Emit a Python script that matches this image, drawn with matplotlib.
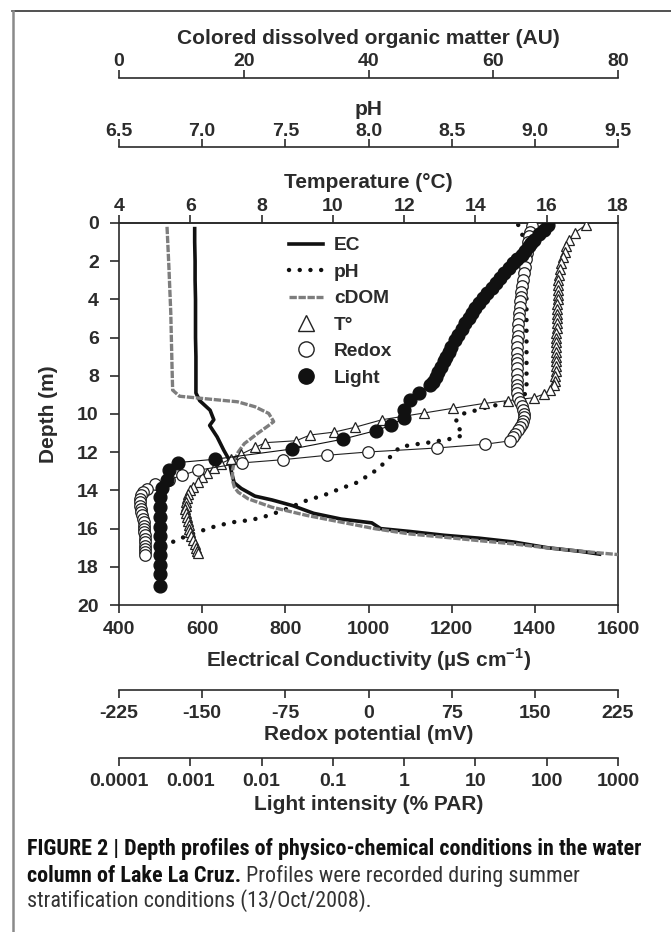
import matplotlib
matplotlib.use('Agg')
import matplotlib.pyplot as plt
from matplotlib.lines import Line2D
from matplotlib.ticker import NullLocator
from matplotlib import font_manager

plt.rcParams['font.family'] = ['Liberation Sans', 'DejaVu Sans']
plt.rcParams['font.weight'] = 'bold'
plt.rcParams['axes.unicode_minus'] = False
plt.rcParams['mathtext.fontset'] = 'custom'
plt.rcParams['mathtext.rm'] = 'Liberation Sans'
plt.rcParams['mathtext.bf'] = 'Liberation Sans:bold'

# ---- data (depth in m) ----
ec_depth = [0.2, 1.0, 2.0, 3.0, 4.0, 5.0, 6.0, 7.0, 8.0, 8.9, 9.3, 9.8, 10.3, 10.6, 11.2,
            11.9, 12.4, 13.1, 13.6, 13.9, 14.3, 14.5, 14.8, 15.2, 15.5, 15.7, 16.0, 16.15,
            16.35, 16.5, 16.7, 17.0, 17.2, 17.35]
ec_value = [582, 582, 583, 583, 584, 584, 584, 585, 585, 585, 594, 619, 628, 618, 636,
            652, 665, 671, 677, 694, 727, 768, 818, 868, 934, 1008, 1029, 1099,
            1182, 1265, 1348, 1430, 1513, 1560]

ph_depth = [0.1, 0.5, 1.0, 2.1, 4.0, 6.0, 8.0, 8.9, 9.36, 9.49, 9.63, 9.8, 9.98, 10.41,
            11.11, 11.29, 11.46, 11.58, 11.72, 12.16, 12.6, 12.98, 13.26, 13.56, 13.91,
            14.26, 14.52, 14.96, 15.31, 15.54, 15.66, 15.85, 16.13, 16.48, 16.71]
ph_value = [8.90, 8.92, 8.94, 8.945, 8.95, 8.95, 8.95, 8.95, 8.87, 8.79, 8.72, 8.65, 8.57,
            8.52, 8.57, 8.50, 8.39, 8.29, 8.19, 8.14, 8.09, 8.04, 7.99, 7.94, 7.83,
            7.73, 7.63, 7.51, 7.40, 7.30, 7.19, 7.09, 6.99, 6.88, 6.82]

cdom_depth = [0.2, 2.3, 4.7, 7.5, 8.75, 9.07, 9.19, 9.36, 9.62, 9.97, 10.4, 10.6, 11.0,
              11.55, 12.0, 12.43, 12.95, 13.48, 13.83, 14.09, 14.44, 14.88, 15.31, 15.66,
              16.01, 16.28, 16.45, 16.63, 16.8, 17.01, 17.19, 17.36]
cdom_value = [7.7, 8.0, 8.3, 8.5, 8.6, 9.7, 13.5, 19.0, 21.8, 24.0, 24.8, 24.0, 22.3,
              20.1, 19.1, 18.5, 18.2, 18.2, 18.5, 19.1, 20.7, 24.5, 30.1, 35.6,
              41.1, 46.6, 52.1, 57.7, 63.2, 68.7, 74.2, 80.0]

temp_depth = [0.1, 0.5, 0.9, 1.2, 1.5, 1.8, 2.1, 2.4, 2.7, 3.0,
              3.25, 3.5, 3.75, 4.0, 4.25, 4.5, 4.75, 5.0, 5.25, 5.5,
              5.75, 6.0, 6.25, 6.5, 6.75, 7.0, 7.25, 7.5, 7.75, 8.0,
              8.25, 8.5, 8.75, 8.95, 9.15, 9.3, 9.45, 9.7, 9.95, 10.3,
              10.7, 10.95, 11.1, 11.4, 11.5, 11.75, 12.1, 12.35, 12.6, 12.85,
              13.1, 13.3, 13.55, 13.8, 14.0, 14.2, 14.4, 14.6, 14.8, 15.0,
              15.2, 15.4, 15.6, 15.8, 16.0, 16.2, 16.4, 16.6, 16.8, 17.0,
              17.15, 17.3]
temp_value = [17.1, 16.8, 16.62, 16.55, 16.5, 16.45, 16.4, 16.36, 16.34, 16.33,
              16.32, 16.32, 16.31, 16.31, 16.3, 16.3, 16.29, 16.29, 16.28, 16.28,
              16.27, 16.27, 16.27, 16.26, 16.26, 16.26, 16.25, 16.25, 16.25, 16.24,
              16.22, 16.2, 16.1, 15.93, 15.63, 14.91, 14.23, 13.37, 12.55, 11.38,
              10.61, 10.03, 9.36, 8.97, 8.11, 7.82, 7.43, 7.14, 6.85, 6.66,
              6.47, 6.32, 6.22, 6.08, 6.0, 5.93, 5.9, 5.88, 5.87, 5.86,
              5.88, 5.9, 5.93, 5.95, 5.97, 6.0, 6.03, 6.08, 6.12, 6.16,
              6.19, 6.22]

redox_depth = [0.18, 0.45, 0.7, 1.0, 1.3, 1.57, 1.9, 2.28, 2.6, 2.97,
               3.3, 3.6, 3.85, 4.1, 4.4, 4.73, 5.0, 5.3, 5.6, 5.9,
               6.2, 6.48, 6.8, 7.1, 7.35, 7.6, 7.9, 8.22, 8.5, 8.7,
               8.92, 9.15, 9.36, 9.6, 9.8, 10.0, 10.15, 10.35, 10.5, 10.7,
               10.85, 11.05, 11.2, 11.41, 11.58, 11.78, 11.99, 12.16, 12.39, 12.56,
               12.95, 13.21, 13.44, 13.65, 13.91, 14.1, 14.26, 14.45, 14.61, 14.8,
               14.96, 15.15, 15.31, 15.5, 15.66, 15.85, 16.01, 16.2, 16.36, 16.55,
               16.71, 16.9, 17.06, 17.2, 17.36]
redox_value = [147.4, 145.5, 144.4, 143.8, 143.3, 142.9, 142.2, 141.4, 140.3, 139.1,
               138.4, 137.8, 137.3, 136.8, 136.2, 135.7, 135.3, 134.9, 134.6, 134.4,
               134.2, 134.1, 133.8, 133.6, 133.5, 133.5, 133.5, 133.5, 133.8, 134.0,
               134.3, 135.2, 137.0, 138.5, 139.6, 140.0, 140.2, 139.3, 138.0, 136.5,
               134.9, 132.5, 130.3, 127.2, 105.5, 61.4, -0.7, -37.2, -76.9, -113.9,
               -154.2, -168.2, -180.0, -192.4, -200.2, -203.0, -204.9, -205.8, -206.4, -206.0,
               -205.5, -204.8, -204.0, -203.4, -202.9, -202.7, -202.5, -202.1, -201.8, -201.8,
               -201.8, -201.8, -201.8, -201.8, -201.8]

light_depth = [0.1, 0.36, 0.6, 0.87, 1.05, 1.22, 1.45, 1.65, 1.9, 2.11,
               2.35, 2.63, 2.9, 3.15, 3.4, 3.67, 3.95, 4.2, 4.45, 4.73,
               5.0, 5.25, 5.55, 5.86, 6.15, 6.47, 6.75, 7.0, 7.25, 7.53,
               7.8, 8.05, 8.3, 8.5, 8.92, 9.27, 9.8, 10.2, 10.6, 10.87,
               11.32, 11.83, 12.37, 12.54, 12.93, 13.45, 13.89, 14.33, 14.85, 15.4,
               15.9, 16.4, 16.9, 17.4, 17.9, 18.4, 19.0]
light_value = [102.6, 91.8, 77.7, 65.8, 60.5, 55.6, 50.0, 44.5, 38.5, 33.7,
               29.5, 25.5, 22.2, 19.3, 16.9, 14.7, 12.8, 11.1, 9.9, 8.9,
               8.0, 7.1, 6.4, 5.7, 5.1, 4.6, 4.2, 3.9, 3.6, 3.3,
               3.0, 2.8, 2.55, 2.3, 1.6, 1.2, 1.0, 1.0, 0.65, 0.40,
               0.137, 0.027, 0.0022, 0.00068, 0.0005, 0.00047, 0.0004, 0.00038, 0.00038, 0.00038,
               0.00037, 0.00038, 0.00038, 0.00038, 0.00038, 0.00038, 0.00038]

ec_ticks = [400, 600, 800, 1000, 1200, 1400, 1600]
temp_ticks = [4, 6, 8, 10, 12, 14, 16, 18]
ph_ticks = [6.5, 7.0, 7.5, 8.0, 8.5, 9.0, 9.5]
cdom_ticks = [0, 20, 40, 60, 80]
redox_ticks = [-225, -150, -75, 0, 75, 150, 225]
light_ticks = [0.0001, 0.001, 0.01, 0.1, 1, 10, 100, 1000]
light_labels = ['0.0001', '0.001', '0.01', '0.1', '1', '10', '100', '1000']
depth_ticks = list(range(0, 21, 2))

W, H = 671, 932
TFS = 14.0   # tick labels
LFS = 15.0   # axis titles
GFS = 13.8   # legend
DARK = '#2b2b2b'
PX = 0.72  # points per pixel at dpi 100

fig = plt.figure(figsize=(W / 100, H / 100), dpi=100)

def fx(px):
    return px / W

def fy(py):
    return 1 - py / H

L, R, T, B = 119, 618, 223, 605
ax = fig.add_axes([fx(L), fy(B), (R - L) / W, (B - T) / H])
for s in ax.spines.values():
    s.set_color(DARK)
    s.set_linewidth(1.2)
ax.set_xlim(400, 1600)
ax.set_ylim(20, 0)
ax.set_xticks(ec_ticks)
ax.set_yticks(depth_ticks)
ax.xaxis.set_ticks_position('bottom')
ax.yaxis.set_ticks_position('left')
ax.tick_params(axis='x', direction='out', length=5.5, width=1.2, color=DARK,
               labelsize=TFS, pad=6.3, labelcolor=DARK)
ax.tick_params(axis='y', direction='out', length=6.5, width=1.2, color=DARK,
               labelsize=TFS, pad=8, labelcolor=DARK)
ax.set_xlabel(r'Electrical Conductivity (µS cm$^{\mathbf{-1}}$)', fontsize=LFS,
              fontweight='bold', color=DARK, labelpad=5.5)
ax.set_ylabel('Depth (m)', fontsize=LFS, fontweight='bold', color=DARK, labelpad=14)


def extra_axis(side, offset_px, lim, ticks, title, labelpad, pad, labels=None, log=False):
    a = ax.twiny()
    if log:
        a.set_xscale('log')
    a.set_xlim(lim)
    for s in a.spines.values():
        s.set_visible(False)
    sp = a.spines[side]
    sp.set_visible(True)
    sp.set_color(DARK)
    sp.set_linewidth(1.2)
    if offset_px:
        sp.set_position(('outward', offset_px * PX))
    a.xaxis.set_ticks_position(side)
    a.xaxis.set_label_position(side)
    a.set_xticks(ticks)
    if labels is not None:
        a.set_xticklabels(labels)
    a.xaxis.set_minor_locator(NullLocator())
    a.tick_params(axis='x', direction='out', length=6, width=1.2, color=DARK,
                  labelsize=TFS, pad=pad, labelcolor=DARK)
    a.set_xlabel(title, fontsize=LFS, fontweight='bold', color=DARK, labelpad=labelpad)
    return a


ax_ph = extra_axis('top', 76, (6.5, 9.5), ph_ticks, 'pH', 6.0, -1.0,
                   labels=['%.1f' % v for v in ph_ticks])
ax_c = extra_axis('top', 145, (0, 80), cdom_ticks, 'Colored dissolved organic matter (AU)', 6.3, 0.0)
ax_t = extra_axis('top', 0, (4, 18), temp_ticks, 'Temperature (°C)', 7.0, 0.0)
ax_r = extra_axis('bottom', 85, (-225, 225), redox_ticks, 'Redox potential (mV)', 2.2, 4.5)
ax_l = extra_axis('bottom', 153, (1e-4, 1e3), light_ticks, 'Light intensity (% PAR)', 3.2,
                  5.0, labels=light_labels, log=True)

# series
ax.plot(ec_value, ec_depth, color='#111111', lw=2.6, solid_capstyle='butt', zorder=3)
ax_ph.plot(ph_value, ph_depth, color='#111111', lw=3.2, linestyle=(0, (0.01, 2.4)),
           dash_capstyle='round', zorder=3)
ax_c.plot(cdom_value, cdom_depth, color='#7d7d7d', lw=2.4, linestyle=(0, (2.2, 0.5)),
          zorder=3)
ax_t.plot(temp_value, temp_depth, color='#222222', lw=0.8, marker='^', ms=7.5,
          mfc='white', mec='#222222', mew=0.9, zorder=3)
ax_r.plot(redox_value, redox_depth, color='#222222', lw=0.8, marker='o', ms=8.3,
          mfc='white', mec='#222222', mew=0.9, zorder=3)
ax_l.plot(light_value, light_depth, color='#111111', lw=0.8, marker='o', ms=9.2,
          mfc='#111111', mec='#111111', zorder=3)

handles = [
    Line2D([], [], color='#111111', lw=2.6),
    Line2D([], [], color='#111111', lw=3.2, linestyle=(0, (0.01, 2.4)), dash_capstyle='round'),
    Line2D([], [], color='#7d7d7d', lw=2.4, linestyle=(0, (2.2, 0.5))),
    Line2D([], [], linestyle='none', marker='^', ms=11, mfc='white', mec='#222222', mew=1),
    Line2D([], [], linestyle='none', marker='o', ms=11, mfc='white', mec='#222222', mew=1),
    Line2D([], [], linestyle='none', marker='o', ms=11, mfc='#111111', mec='#111111'),
]
labels = ['EC', 'pH', 'cDOM', 'T°', 'Redox', 'Light']
fig.legend(handles, labels, loc='upper left', bbox_to_anchor=(fx(289), fy(237)),
           frameon=False, prop={'size': GFS, 'weight': 'bold'}, labelcolor=DARK,
           handlelength=1.75, handletextpad=0.6, labelspacing=0.47,
           borderpad=0, borderaxespad=0)

# page frame lines
fig.add_artist(Line2D([fx(12), 1], [fy(10.7), fy(10.7)], color='#222222', lw=1.1))
fig.add_artist(Line2D([fx(12.7), fx(12.7)], [0, fy(10.7)], color='#8a8a8a', lw=1.8))

# caption: prefer a condensed face if one is installed
cap_font = 'Liberation Sans'
cap_stretch = 'normal'
installed = {f.name for f in font_manager.fontManager.ttflist}
for fam in ['Liberation Sans Narrow', 'Roboto Condensed', 'Open Sans Condensed', 'Noto Sans']:
    if fam not in installed:
        continue
    path = font_manager.findfont(font_manager.FontProperties(family=fam, stretch='condensed',
                                                             weight='bold'),
                                 fallback_to_default=False)
    if 'Condensed' in path or 'Narrow' in path:
        cap_font, cap_stretch = fam, 'condensed'
        break

cap_left, cap_right = 27, 643
cap_size = 14.0
x0 = fx(cap_left)
t1 = fig.text(x0, fy(849), 'FIGURE 2 | Depth profiles of physico-chemical conditions in the water',
              family=cap_font, stretch=cap_stretch, fontsize=cap_size, fontweight='bold',
              color='#111111', va='center')
fig.canvas.draw()
rend = fig.canvas.get_renderer()
w1 = t1.get_window_extent(rend).width
cap_size = cap_size * (cap_right - cap_left) / w1
t1.set_fontsize(cap_size)
t2 = fig.text(x0, fy(876), 'column of Lake La Cruz.', family=cap_font, stretch=cap_stretch,
              fontsize=cap_size, fontweight='bold', color='#111111', va='center')
w2 = t2.get_window_extent(rend).width
fig.text(x0 + (w2 + 5) / W, fy(876), 'Profiles were recorded during summer', family=cap_font,
         stretch=cap_stretch, fontsize=cap_size, fontweight='normal', color='#333333',
         va='center')
fig.text(x0, fy(901), 'stratification conditions (13/Oct/2008).', family=cap_font,
         stretch=cap_stretch, fontsize=cap_size, fontweight='normal', color='#333333',
         va='center')

fig.savefig('out.png', dpi=100)
